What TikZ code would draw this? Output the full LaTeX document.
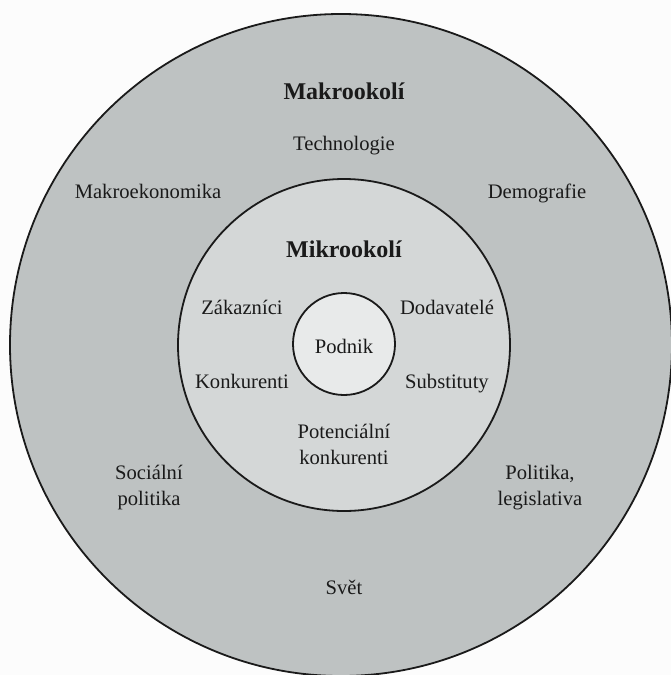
\documentclass[tikz,border=0pt]{standalone}
\usepackage{fontspec}
\setmainfont{Liberation Serif}
\definecolor{bgwhite}{HTML}{FCFCFC}
\definecolor{ringouter}{HTML}{BEC2C2}
\definecolor{ringmid}{HTML}{D4D7D7}
\definecolor{corefill}{HTML}{E8EAEA}
\definecolor{inkcol}{HTML}{1A1A1A}
\tikzset{
  ring/.style={circle, draw=inkcol, line width=1.8pt, inner sep=0pt},
  lbl/.style={text=inkcol, font=\fontsize{20.6}{27}\selectfont, inner sep=0pt, anchor=base},
  lbltwo/.style={text=inkcol, font=\fontsize{20.6}{26}\selectfont, inner sep=0pt, align=center},
  title/.style={text=inkcol, font=\fontsize{24}{30}\selectfont\bfseries, inner sep=0pt, anchor=base}
}
\begin{document}
\begin{tikzpicture}[x=1pt,y=-1pt]
\useasboundingbox (0,0) rectangle (671,675);
\fill[bgwhite] (0,0) rectangle (671,675);
\begin{scope}
\clip (0,0) rectangle (671,675);
\node[ring, fill=ringouter, minimum size=662pt] (macro) at (341,345) {};
\node[ring, fill=ringmid, minimum size=332pt] (micro) at (344,345) {};
\node[ring, fill=corefill, minimum size=102pt] (firm) at (344,344) {};
\end{scope}
\node[title] (tmacro) at (344,99) {Makrookolí};
\node[lbl] (tech) at (344,150) {Technologie};
\node[lbl] (econ) at (148,198) {Makroekonomika};
\node[lbl] (demo) at (537,198) {Demografie};
\node[title] (tmicro) at (344,257) {Mikrookolí};
\node[lbl] (cust) at (242,314) {Zákazníci};
\node[lbl] (supp) at (447,314) {Dodavatelé};
\node[lbl] (podnik) at (344,353) {Podnik};
\node[lbl] (comp) at (242,388) {Konkurenti};
\node[lbl] (subs) at (447,388) {Substituty};
\node[lbltwo] (pot) at (344,444) {Potenciální\\konkurenti};
\node[lbltwo] (soc) at (149,488) {Sociální\\politika};
\node[lbltwo] (pol) at (540,488) {Politika,\\legislativa};
\node[lbl] (world) at (344,594) {Svět};
\end{tikzpicture}
\end{document}
